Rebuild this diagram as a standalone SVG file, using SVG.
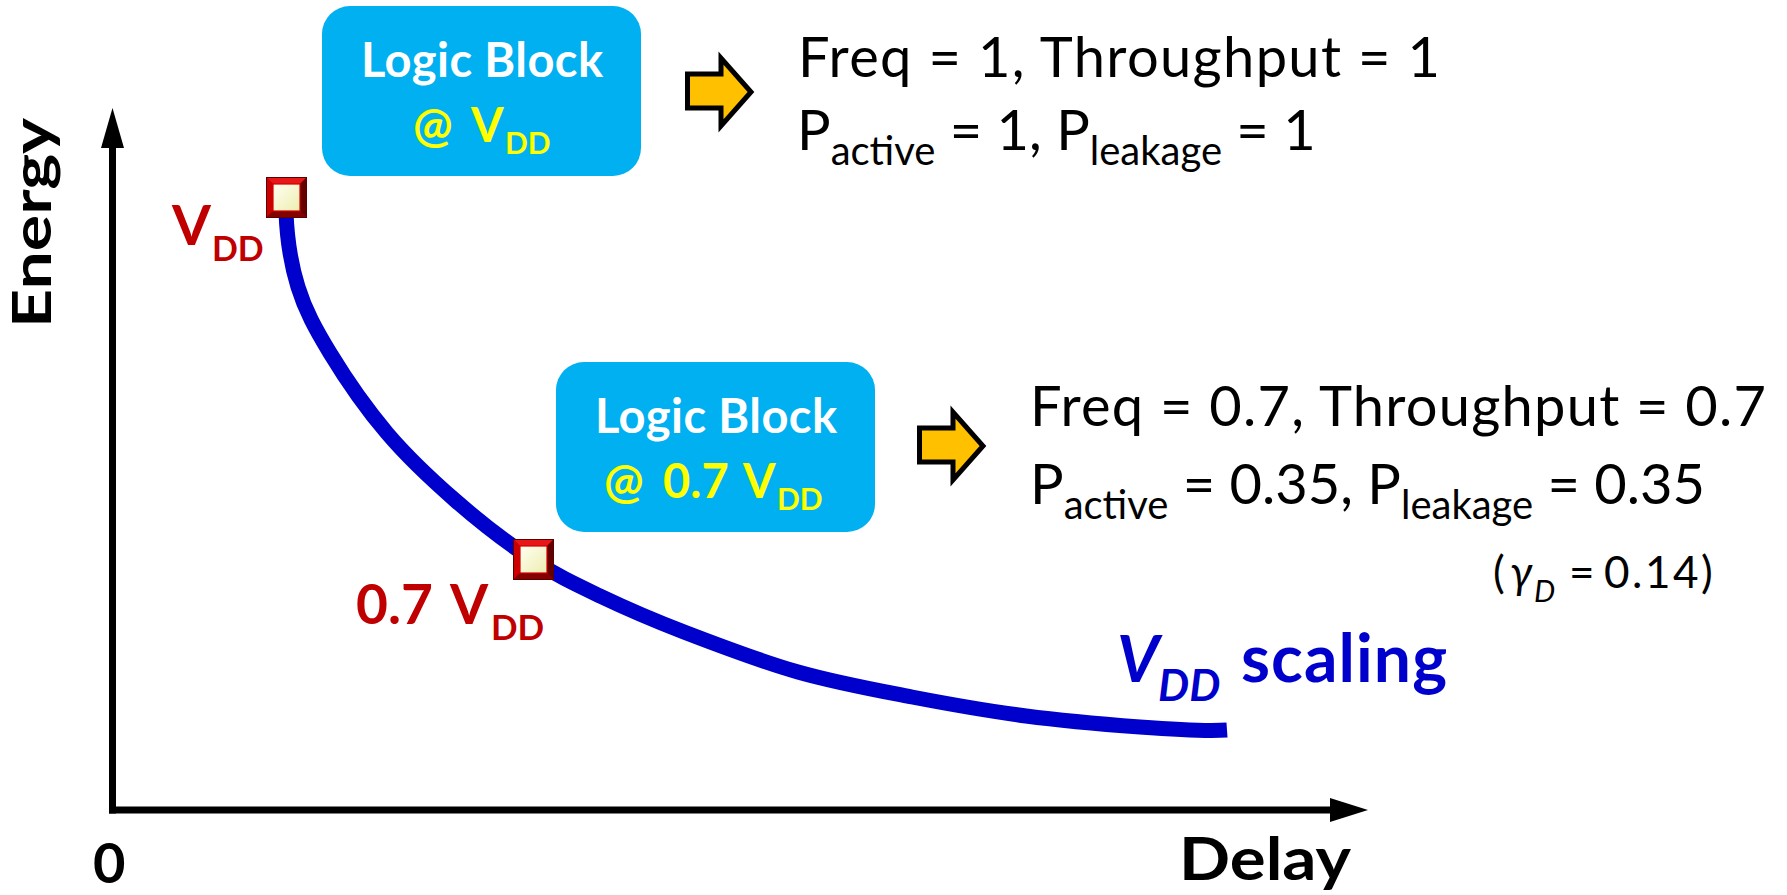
<svg xmlns="http://www.w3.org/2000/svg" width="1787" height="895" viewBox="0 0 1787 895">
<style>
text { font-family: Lato, "Noto Sans", "Liberation Sans", sans-serif; }
.b { font-weight: bold; }
.box { fill: #00B0F0; }
.wt { fill: #FFFFFF; font-weight: bold; font-size: 47px; }
.yt { fill: #FFFF00; font-weight: bold; }
.red { fill: #C00000; font-weight: bold; }
.blk { fill: #000000; }
.blue { fill: #0000CC; font-weight: bold; }
.sub { font-size: 40px; }
.axis { stroke: #000; stroke-width: 7; fill: none; }
.blockarrow { fill: #FFC000; stroke: #000; stroke-width: 5; stroke-linejoin: miter; }
</style>
<defs>
  <linearGradient id="cream" x1="0" y1="0" x2="1" y2="1">
    <stop offset="0" stop-color="#FFFFF2"/>
    <stop offset="1" stop-color="#EDEDB0"/>
  </linearGradient>
  <g id="sq">
    <rect x="0" y="0" width="41" height="41" fill="#9A0000"/>
    <polygon points="0,0 41,0 34,7 7,7" fill="#E81818"/>
    <polygon points="0,0 7,7 7,34 0,41" fill="#CC0000"/>
    <polygon points="41,0 41,41 34,34 34,7" fill="#640000"/>
    <polygon points="0,41 41,41 34,34 7,34" fill="#850000"/>
    <rect x="7" y="7" width="27" height="27" fill="url(#cream)" stroke="#D00000" stroke-width="1.2"/>
    <rect x="0.5" y="0.5" width="40" height="40" fill="none" stroke="#5A0000" stroke-width="1"/>
  </g>
  <polygon id="barrow" points="687.5,74 721,74 721,58 751,92 721,126 721,108 687.5,108"/>
</defs>

<g id="axes">
  <line class="axis" x1="112.5" y1="813.5" x2="112.5" y2="140"/>
  <polygon points="101,148 112.5,108 124,148" fill="#000"/>
  <line class="axis" x1="109" y1="810" x2="1335" y2="810"/>
  <polygon points="1330,798 1368,810 1330,822" fill="#000"/>
  <text class="b blk" font-size="53" transform="translate(51,328) rotate(-90)" textLength="210" lengthAdjust="spacingAndGlyphs">Energy</text>
  <text class="b blk" x="1179" y="880" font-size="60" textLength="172" lengthAdjust="spacingAndGlyphs">Delay</text>
  <text class="b blk" x="93" y="883" font-size="56">0</text>
</g>

<g id="curve">
  <path d="M286,212 C287,240 290.7,263.5 298,287 C305.3,310.5 315.2,328.7 330,353 C344.8,377.3 366,408.3 387,433 C408,457.7 431.7,479.8 456,501 C480.3,522.2 509,544.2 533,560 C557,575.8 574.8,584 600,596 C625.2,608 651,619.3 684,632 C717,644.7 760,661.2 798,672 C836,682.8 874,689.7 912,697 C950,704.3 988,711 1026,716 C1064,721 1106.5,724.5 1140,727 C1173.5,729.5 1213,731 1227,730" fill="none" stroke="#0000CC" stroke-width="15" stroke-linecap="butt"/>
  <text x="1117" y="682" class="blue" font-size="65" font-style="italic">V</text>
  <text x="1158" y="701" class="blue" font-size="44" font-style="italic">DD</text>
  <text x="1241" y="682" class="blue" font-size="66" textLength="206">scaling</text>
</g>

<g id="point-vdd">
  <use href="#sq" x="266" y="177"/>
  <text class="red" x="172" y="245" font-size="56">V</text>
  <text class="red" x="212" y="261" font-size="34">DD</text>
</g>

<g id="point-07vdd">
  <use href="#sq" x="513" y="539"/>
  <text class="red" y="624" font-size="55"><tspan x="356">0.7</tspan><tspan x="450">V</tspan></text>
  <text class="red" x="491" y="640" font-size="35">DD</text>
</g>

<g id="block-vdd">
  <rect class="box" x="322" y="6" width="319" height="170" rx="28"/>
  <text class="wt" x="361" y="77" textLength="242">Logic Block</text>
  <text class="yt" y="142" font-size="47"><tspan x="413">@</tspan><tspan x="471">V</tspan><tspan x="505" y="154" font-size="30">DD</tspan></text>
</g>

<g id="block-07vdd">
  <rect class="box" x="556" y="362" width="319" height="170" rx="28"/>
  <text class="wt" x="595" y="433" textLength="242">Logic Block</text>
  <text class="yt" y="498" font-size="47"><tspan x="604">@</tspan><tspan x="663">0.7</tspan><tspan x="743">V</tspan><tspan x="777" y="510" font-size="30">DD</tspan></text>
</g>

<g id="connectors">
  <use href="#barrow" class="blockarrow"/>
  <use href="#barrow" class="blockarrow" transform="translate(232,354)"/>
</g>

<g id="result-vdd">
  <text class="blk" x="798" y="77" font-size="56" textLength="642">Freq = 1, Throughput = 1</text>
  <text class="blk" x="797" y="150" font-size="56">P<tspan class="sub" y="165">active</tspan><tspan y="150"> = 1, P</tspan><tspan class="sub" y="165">leakage</tspan><tspan y="150"> = 1</tspan></text>
</g>

<g id="result-07vdd">
  <text class="blk" x="1030" y="426" font-size="56" textLength="736">Freq = 0.7, Throughput = 0.7</text>
  <text class="blk" x="1030" y="504" font-size="56">P<tspan class="sub" y="519">active</tspan><tspan y="504"> = 0.35, P</tspan><tspan class="sub" y="519">leakage</tspan><tspan y="504"> = 0.35</tspan></text>
  <text class="blk" y="588" font-size="44"><tspan x="1493">(</tspan><tspan x="1510" font-style="italic">γ</tspan><tspan x="1534" y="602" font-size="30" font-style="italic">D</tspan><tspan x="1569" y="588">=</tspan><tspan x="1604" y="588" letter-spacing="2.5">0.14)</tspan></text>
</g>
</svg>
